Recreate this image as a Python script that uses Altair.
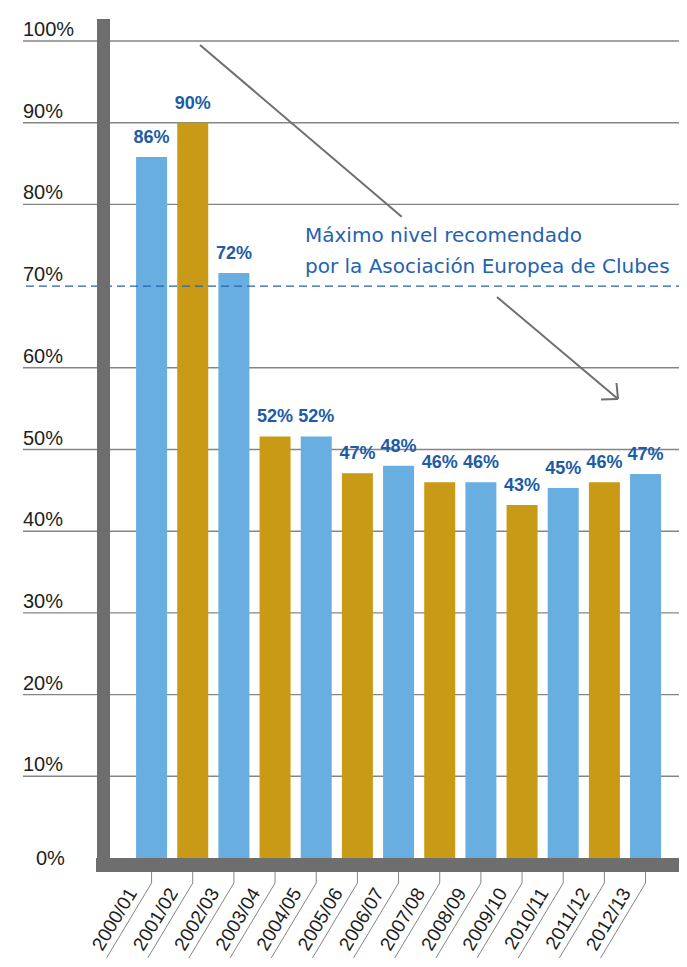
import altair as alt
import pandas as pd

# ---------------- data ----------------
seasons = ["2000/01", "2001/02", "2002/03", "2003/04", "2004/05", "2005/06", "2006/07",
           "2007/08", "2008/09", "2009/10", "2010/11", "2011/12", "2012/13"]
values = [85.8, 90.0, 71.6, 51.6, 51.6, 47.1, 48.0, 46.0, 46.0, 43.2, 45.3, 46.0, 47.0]
value_labels = ["86%", "90%", "72%", "52%", "52%", "47%", "48%", "46%", "46%", "43%", "45%", "46%", "47%"]

y_ticks = [0, 10, 20, 30, 40, 50, 60, 70, 80, 90, 100]
y_tick_labels = ["0%", "10%", "20%", "30%", "40%", "50%", "60%", "70%", "80%", "90%", "100%"]
recommended_max = 70
annotation_lines = ["Máximo nivel recomendado", "por la Asociación Europea de Clubes"]

# ---------------- styles ----------------
BLUE = "#68aee0"
GOLD = "#c99a16"
AXIS_GRAY = "#6e6e6e"
GRID_GRAY = "#858585"
LABEL_BLUE = "#1d5ca6"
NOTE_BLUE = "#2463ae"
TEXT = "#1e1e1e"
W, H = 571, 817

bars_df = pd.DataFrame({
    "season": seasons,
    "value": values,
    "label": value_labels,
    "parity": [i % 2 for i in range(len(seasons))],
})
ticks_df = pd.DataFrame({"tick": y_ticks, "label": y_tick_labels})
ref_df = pd.DataFrame({"tick": [recommended_max]})
one = pd.DataFrame({"k": [0]})

xscale = alt.Scale(domain=seasons, paddingInner=0.247, paddingOuter=0.559, align=0.61)
yscale = alt.Scale(domain=[0, 100], nice=False, zero=True)
X = alt.X("season:N", scale=xscale, axis=None)
YT = alt.Y("tick:Q", scale=yscale, axis=None)

grid = alt.Chart(ticks_df).transform_filter(
    f"datum.tick > 0 && datum.tick != {recommended_max}"
).mark_rule(color=GRID_GRAY, strokeWidth=1.4).encode(
    y=YT, x=alt.value(-85), x2=alt.value(W),
)

bars = alt.Chart(bars_df).mark_bar().encode(
    x=X,
    y=alt.Y("value:Q", scale=yscale, axis=None),
    color=alt.Color("parity:N", scale=alt.Scale(domain=[0, 1], range=[BLUE, GOLD]), legend=None),
)

bar_text = alt.Chart(bars_df).mark_text(
    font="Liberation Sans", fontSize=18, fontWeight="bold", color=LABEL_BLUE,
    baseline="alphabetic", dy=-14,
).encode(x=X, y=alt.Y("value:Q", scale=yscale, axis=None), text="label:N")

dashed = alt.Chart(ref_df).mark_rule(color=NOTE_BLUE, strokeWidth=1.4, strokeDash=[8, 5]).encode(
    y=YT, x=alt.value(-82), x2=alt.value(W),
)

left_bar = alt.Chart(one).mark_rule(color=AXIS_GRAY, strokeWidth=13).encode(
    x=alt.value(-4.5), y=alt.value(-22), y2=alt.value(831),
)
bottom_bar = alt.Chart(one).mark_rule(color=AXIS_GRAY, strokeWidth=14).encode(
    y=alt.value(824), x=alt.value(-12), x2=alt.value(W),
)

ylabels = alt.Chart(ticks_df).transform_filter("datum.tick > 0").mark_text(
    font="Liberation Sans", fontSize=20, color=TEXT, align="left", baseline="alphabetic", dy=-5,
).encode(y=YT, x=alt.value(-85), text="label:N")

zlabel = alt.Chart(ticks_df).transform_filter("datum.tick == 0").mark_text(
    font="Liberation Sans", fontSize=20, color=TEXT, align="left", baseline="alphabetic", dy=7,
).encode(y=YT, x=alt.value(-72), text="label:N")

ticks = alt.Chart(bars_df).mark_rule(color=GRID_GRAY, strokeWidth=1).encode(
    x=X, y=alt.value(831), y2=alt.value(842),
)
leaders = alt.Chart(bars_df).mark_rule(color=GRID_GRAY, strokeWidth=1, x2Offset=-45).encode(
    x=X, x2="season:N", y=alt.value(842), y2=alt.value(917),
)
xlabels = alt.Chart(bars_df).mark_text(
    font="Liberation Sans", fontSize=19, color=TEXT, angle=301, align="right",
    baseline="alphabetic", xOffset=-14,
).encode(x=X, y=alt.value(852), text="season:N")

note = alt.Chart(one).mark_text(
    font="DejaVu Sans", fontSize=20, color=NOTE_BLUE, align="left", baseline="alphabetic",
    lineHeight=31, text=annotation_lines,
).encode(x=alt.value(197), y=alt.value(201))

arrow1 = alt.Chart(one).mark_rule(color=AXIS_GRAY, strokeWidth=2).encode(
    x=alt.value(92), y=alt.value(4), x2=alt.value(293.7), y2=alt.value(175.7),
)
arrow2 = alt.Chart(one).mark_rule(color=AXIS_GRAY, strokeWidth=2).encode(
    x=alt.value(389), y=alt.value(256), x2=alt.value(510), y2=alt.value(358),
)
head1 = alt.Chart(one).mark_rule(color=AXIS_GRAY, strokeWidth=2).encode(
    x=alt.value(510), y=alt.value(358), x2=alt.value(493), y2=alt.value(358.5),
)
head2 = alt.Chart(one).mark_rule(color=AXIS_GRAY, strokeWidth=2).encode(
    x=alt.value(510), y=alt.value(358), x2=alt.value(508.5), y2=alt.value(342),
)

chart = alt.layer(
    grid, bars, dashed, bar_text, left_bar, bottom_bar, ylabels, zlabel,
    ticks, leaders, xlabels, note, arrow1, arrow2, head1, head2,
).properties(
    width=W, height=H,
    padding={"left": 100, "top": 33, "right": 0, "bottom": 100},
    autosize=alt.AutoSizeParams(type="none"),
).configure_view(stroke=None)

chart.save("out.html", embed_options={"renderer": "svg", "actions": False})
